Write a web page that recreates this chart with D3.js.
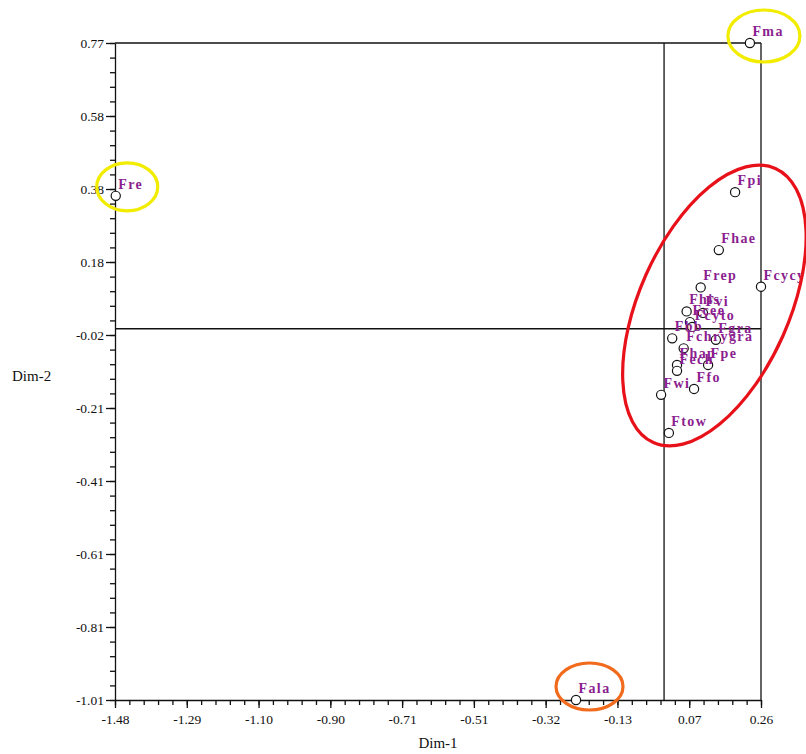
<!DOCTYPE html>
<html>
<head>
<meta charset="utf-8">
<script src="https://cdn.jsdelivr.net/npm/d3@7"></script>
<style>
  html, body { margin: 0; padding: 0; background: #ffffff; }
  svg { display: block; }
  .tick text { font-family: "Liberation Serif", "Times New Roman", serif; font-size: 13.5px; fill: #111; }
  .pt-label { font-family: "Liberation Serif", "Times New Roman", serif; font-size: 14px; font-weight: bold; letter-spacing: 1.4px; fill: #8b1e8f; }
  .axis-title { font-family: "Liberation Serif", "Times New Roman", serif; font-size: 15px; fill: #111; }
</style>
</head>
<body>
<svg id="chart" width="806" height="754"></svg>
<script>
// Point names and coordinates on the two dimensions
const names = ["Fre", "Fma", "Fala", "Fpi", "Fhae", "Frep", "Fcycy", "Fhis", "Fvi", "Fcee",
               "Fcyto", "Fbb", "Fgra", "Fchrygra", "Fhap", "Fpe", "Fech", "Ffo", "Fwi", "Ftow"];
const dim1 = [-1.482, 0.232, -0.238, 0.192, 0.148, 0.099, 0.262, 0.061, 0.105, 0.070,
              0.076, 0.022, 0.140, 0.053, 0.035, 0.119, 0.035, 0.081, -0.008, 0.013];
const dim2 = [0.360, 0.774, -1.0055, 0.370, 0.213, 0.112, 0.114, 0.047, 0.043, 0.018,
              0.005, -0.026, -0.030, -0.053, -0.098, -0.098, -0.114, -0.163, -0.179, -0.282];

// Axis extents and tick labels
const xDomain = [-1.484, 0.262];
const yDomain = [-1.0055, 0.774];
const xTickLabels = ["-1.48", "-1.29", "-1.10", "-0.90", "-0.71", "-0.51", "-0.32", "-0.13", "0.07", "0.26"];
const yTickLabels = ["-1.01", "-0.81", "-0.61", "-0.41", "-0.21", "-0.02", "0.18", "0.38", "0.58", "0.77"];

const svg = d3.select("#chart");
const plotLeft = 115, plotRight = 761, plotTop = 43, plotBottom = 700;

const x = d3.scaleLinear().domain(xDomain).range([plotLeft, plotRight]);
const y = d3.scaleLinear().domain(yDomain).range([plotBottom, plotTop]);

const steps = xTickLabels.length - 1;
const xMajor = d3.range(steps + 1).map(i => xDomain[0] + i * (xDomain[1] - xDomain[0]) / steps);
const yMajor = d3.range(steps + 1).map(i => yDomain[0] + i * (yDomain[1] - yDomain[0]) / steps);
const xMinor = d3.range(steps * 5 + 1).map(i => xDomain[0] + i * (xDomain[1] - xDomain[0]) / (steps * 5));
const yMinor = d3.range(steps * 5 + 1).map(i => yDomain[0] + i * (yDomain[1] - yDomain[0]) / (steps * 5));

const lineColor = "#111";

// Frame: top and right edges
svg.append("line").attr("x1", x(xDomain[0])).attr("x2", x(xDomain[1]))
  .attr("y1", y(yDomain[1])).attr("y2", y(yDomain[1]))
  .attr("stroke", lineColor).attr("stroke-width", 1.3);
svg.append("line").attr("x1", x(xDomain[1])).attr("x2", x(xDomain[1]))
  .attr("y1", y(yDomain[0])).attr("y2", y(yDomain[1]))
  .attr("stroke", lineColor).attr("stroke-width", 1.3);

// Origin cross lines
svg.append("line").attr("x1", x(0)).attr("x2", x(0))
  .attr("y1", y(yDomain[0])).attr("y2", y(yDomain[1]))
  .attr("stroke", lineColor).attr("stroke-width", 1.3);
svg.append("line").attr("x1", x(xDomain[0])).attr("x2", x(xDomain[1]))
  .attr("y1", y(0)).attr("y2", y(0))
  .attr("stroke", lineColor).attr("stroke-width", 1.3);

// X axis: minor then major ticks
const gxMinor = svg.append("g").attr("transform", `translate(0,${plotBottom})`)
  .call(d3.axisBottom(x).tickValues(xMinor).tickSize(5).tickFormat(""));
gxMinor.select(".domain").remove();
const gx = svg.append("g").attr("transform", `translate(0,${plotBottom})`)
  .call(d3.axisBottom(x).tickValues(xMajor).tickSize(8).tickSizeOuter(0).tickPadding(6)
    .tickFormat((d, i) => xTickLabels[i]));

// Y axis: minor then major ticks
const gyMinor = svg.append("g").attr("transform", `translate(${plotLeft},0)`)
  .call(d3.axisLeft(y).tickValues(yMinor).tickSize(5).tickFormat(""));
gyMinor.select(".domain").remove();
const gy = svg.append("g").attr("transform", `translate(${plotLeft},0)`)
  .call(d3.axisLeft(y).tickValues(yMajor).tickSize(9).tickSizeOuter(0).tickPadding(2)
    .tickFormat((d, i) => yTickLabels[i]));

svg.selectAll(".domain, .tick line").attr("stroke", lineColor).attr("stroke-width", 1.3);

// Axis titles
svg.append("text").attr("class", "axis-title")
  .attr("x", (plotLeft + plotRight) / 2).attr("y", 748).attr("text-anchor", "middle").text("Dim-1");
svg.append("text").attr("class", "axis-title")
  .attr("x", 12).attr("y", 381).text("Dim-2");

// Points
const pts = names.map((n, i) => ({ name: n, d1: dim1[i], d2: dim2[i] }));

svg.append("g").selectAll("circle").data(pts).join("circle")
  .attr("cx", d => x(d.d1)).attr("cy", d => y(d.d2)).attr("r", 4.6)
  .attr("fill", "#fff").attr("stroke", "#111").attr("stroke-width", 1.2);

svg.append("g").selectAll("text").data(pts).join("text")
  .attr("class", "pt-label")
  .attr("x", d => x(d.d1) + 2.5).attr("y", d => y(d.d2) - 7)
  .text(d => d.name);

// Highlight rings around the outlying points and the main group
const byName = n => pts.find(p => p.name === n);
const ring = (cx, cy, rx, ry, color, rot) => svg.append("ellipse")
  .attr("cx", 0).attr("cy", 0).attr("rx", rx).attr("ry", ry)
  .attr("transform", `translate(${cx},${cy}) rotate(${rot || 0})`)
  .attr("fill", "none").attr("stroke", color).attr("stroke-width", 3.2);

const pre = byName("Fre"), pma = byName("Fma"), pala = byName("Fala");
ring(x(pre.d1) + 11.5, y(pre.d2) - 9, 30.5, 24, "#f2ec00");
ring(x(pma.d1) + 14, y(pma.d2) - 7, 36, 26, "#f2ec00");
ring(x(pala.d1) + 13.5, y(pala.d2) - 13.5, 33.5, 23.5, "#f26b1d");
ring(x(0.136), y(0.063), 75, 150, "#e8111a", 24);
</script>
</body>
</html>
